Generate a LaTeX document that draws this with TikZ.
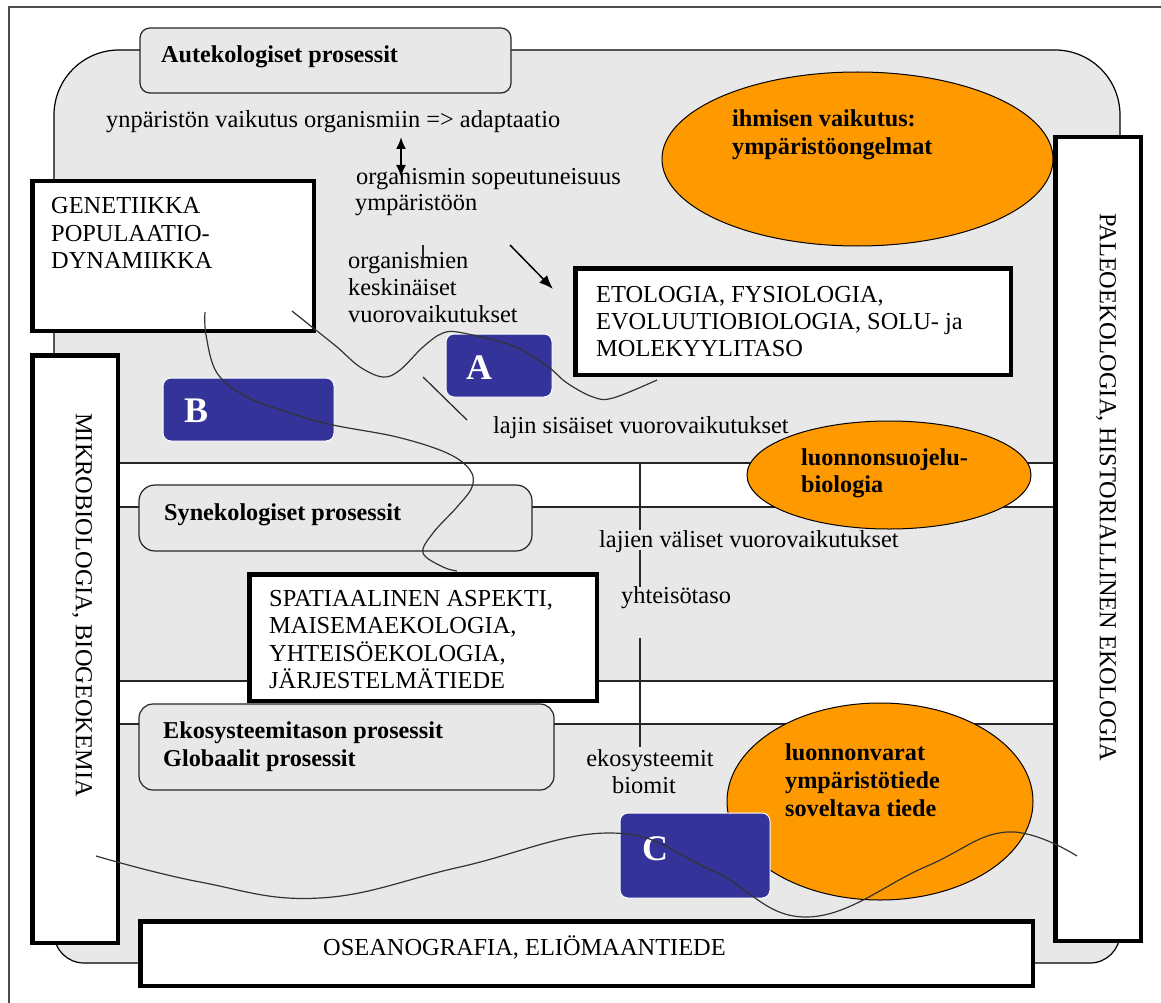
\documentclass[tikz,border=0pt]{standalone}
\usepackage{fontspec}
\setmainfont{Liberation Serif}
\usetikzlibrary{arrows.meta,shapes.geometric}
\definecolor{bggray}{HTML}{E8E8E8}
\definecolor{orng}{HTML}{FF9900}
\definecolor{navyblue}{HTML}{333399}
\begin{document}
\begin{tikzpicture}[x=1pt,y=-1pt,
  txt/.style={inner sep=0pt, anchor=base west, font=\fontsize{24.4}{28}\selectfont},
  btxt/.style={inner sep=0pt, anchor=base west, font=\fontsize{24.2}{28}\selectfont\bfseries},
  thickbox/.style={draw=black, fill=white, line width=4.5pt, rectangle, inner sep=0pt},
  procbox/.style={draw=black!85, fill=bggray, line width=1.2pt, rectangle, rounded corners=#1, inner sep=0pt},
  letterbox/.style={draw=white, fill=navyblue, line width=1pt, rectangle, rounded corners=8pt, inner sep=0pt},
  letter/.style={inner sep=0pt, anchor=base west, text=white, font=\fontsize{36}{40}\selectfont\bfseries},
  ell/.style={ellipse, draw=black, fill=orng, line width=1pt, inner sep=0pt},
  thinline/.style={line width=1.2pt, black!85},
  wave/.style={line width=1.2pt, black!80},
]
\useasboundingbox (0,0) rectangle (1161,1003);
\clip (0,0) rectangle (1161,1003);
\fill[white] (0,0) rectangle (1161,1003);
% outer frame
\draw[line width=1.2pt, black!70] (9,7) rectangle (1185,1025);
% gray background
\draw[line width=1.2pt, fill=bggray] (54,115) arc[start angle=180,end angle=270,radius=65]
  -- (1055,50) arc[start angle=270,end angle=360,radius=65]
  -- (1120,933) arc[start angle=0,end angle=90,radius=30]
  -- (84,963) arc[start angle=90,end angle=180,radius=30] -- cycle;
% white bands
\fill[white] (120,463) rectangle (1053,507);
\fill[white] (120,681) rectangle (1053,724);
\draw[thinline] (120,463) -- (1053,463);
\draw[thinline] (120,507) -- (1053,507);
\draw[thinline] (120,681) -- (1053,681);
\draw[thinline] (120,724) -- (1053,724);
% vertical level line
\draw[thinline] (640,463) -- (640,530);
\draw[thinline] (640,550) -- (640,587);
\draw[thinline] (640,638) -- (640,747);
% process boxes
\node[procbox=10pt, minimum width=371pt, minimum height=65pt] (aut) at (325.5,60.5) {};
\node[procbox=16pt, minimum width=393pt, minimum height=66pt] (syn) at (335.5,518) {};
\node[procbox=14pt, minimum width=415pt, minimum height=86pt] (eko) at (346.5,747) {};
% ellipses
\node[ell, minimum width=391pt, minimum height=174pt] (ihm) at (857.5,159) {};
\node[ell, minimum width=284pt, minimum height=108pt] (luo) at (889,475) {};
\node[ell, minimum width=306pt, minimum height=197pt] (lva) at (880,801.5) {};
% thick boxes
\node[thickbox, minimum width=281.5pt, minimum height=149.5pt] (gen) at (173,256) {};
\node[thickbox, minimum width=435.5pt, minimum height=106.5pt] (eto) at (793,321.5) {};
\node[thickbox, minimum width=347.5pt, minimum height=126.5pt] (spa) at (423,637.5) {};
\node[thickbox, minimum width=85.5pt, minimum height=587.5pt] (mik) at (75,649) {};
\node[thickbox, minimum width=85.5pt, minimum height=803.5pt] (pal) at (1098,539) {};
\node[thickbox, minimum width=892.5pt, minimum height=64.5pt] (ose) at (586.5,953.5) {};
% letter boxes
\node[letterbox, minimum width=106pt, minimum height=63pt] (boxA) at (499,365.5) {};
\node[letterbox, minimum width=171pt, minimum height=63pt] (boxB) at (248.5,409.5) {};
\node[letterbox, minimum width=150pt, minimum height=85pt] (boxC) at (695,855.5) {};
\node[letter] (lA) at (466,379) {A};
\node[letter] (lB) at (184,422) {B};
\node[letter] (lC) at (642,860) {C};
% texts
\node[btxt] (autT) at (161,63) {Autekologiset prosessit};
\node[txt] (env) at (106,128) {ynpäristön vaikutus organismiin => adaptaatio};
\node[txt] (ad1) at (356,185) {organismin sopeutuneisuus};
\node[txt] (ad2) at (355,210) {ympäristöön};
\node[txt] (or1) at (348,268) {organismien};
\node[txt] (or2) at (348,295) {keskinäiset};
\node[txt] (or3) at (348,322) {vuorovaikutukset};
\node[txt] (g1) at (51,214) {GENETIIKKA};
\node[txt] (g2) at (51,241) {POPULAATIO-};
\node[txt] (g3) at (51,268) {DYNAMIIKKA};
\node[txt] (e1) at (596,302) {ETOLOGIA, FYSIOLOGIA,};
\node[txt] (e2) at (596,329) {EVOLUUTIOBIOLOGIA, SOLU- ja};
\node[txt] (e3) at (596,356) {MOLEKYYLITASO};
\node[txt] (laj1) at (493,433) {lajin sisäiset vuorovaikutukset};
\node[btxt] (synT) at (164,520) {Synekologiset prosessit};
\node[txt] (laj2) at (599,547) {lajien väliset vuorovaikutukset};
\node[txt] (yht) at (621,603) {yhteisötaso};
\node[txt] (s1) at (269,606) {SPATIAALINEN ASPEKTI,};
\node[txt] (s2) at (269,633.5) {MAISEMAEKOLOGIA,};
\node[txt] (s3) at (269,661) {YHTEISÖEKOLOGIA,};
\node[txt] (s4) at (269,688.5) {JÄRJESTELMÄTIEDE};
\node[btxt] (ek1) at (163,738) {Ekosysteemitason prosessit};
\node[btxt] (ek2) at (163,766) {Globaalit prosessit};
\node[txt, anchor=base] (eks) at (650,766) {ekosysteemit};
\node[txt, anchor=base] (bio) at (644,793) {biomit};
\node[txt] (oseT) at (323,955) {OSEANOGRAFIA, ELIÖMAANTIEDE};
\node[btxt] (ih1) at (732,127) {ihmisen vaikutus:};
\node[btxt] (ih2) at (732,155) {ympäristöongelmat};
\node[btxt] (lu1) at (801,465) {luonnonsuojelu-};
\node[btxt] (lu2) at (801,492) {biologia};
\node[btxt] (lv1) at (785,760) {luonnonvarat};
\node[btxt] (lv2) at (785,788) {ympäristötiede};
\node[btxt] (lv3) at (785,816) {soveltava tiede};
\node[txt, anchor=west, rotate=-90] (mikT) at (82,413) {MIKROBIOLOGIA, BIOGEOKEMIA};
\node[txt, anchor=west, rotate=-90] (palT) at (1106,213) {PALEOEKOLOGIA, HISTORIALLINEN EKOLOGIA};
% arrows and marks
\coordinate (da1) at (401,137);
\coordinate (da2) at (401,177);
\draw[line width=2pt, {Latex[length=12pt,width=10pt]}-{Latex[length=12pt,width=10pt]}] (da1) -- (da2);
\coordinate (ar1) at (510,245);
\coordinate (ar2) at (553,289);
\draw[line width=1.5pt, -{Latex[length=14pt,width=11pt]}] (ar1) -- (ar2);
\coordinate (tk1) at (423,245);
\coordinate (tk2) at (423,263);
\draw[thinline] (tk1) -- (tk2);
\coordinate (dg1) at (423,377);
\coordinate (dg2) at (467,420);
\draw[thinline] (dg1) -- (dg2);
% curves
\draw[wave] plot[smooth, tension=0.6] coordinates {(205,312) (206,335) (217,373) (247,397) (290,413) (333,425) (397,437) (447,453) (470,470) (472,487) (457,507) (433,533) (423,553) (443,567) (457,571)};
\draw[wave] plot[smooth, tension=0.6] coordinates {(292,311) (312,327) (337,347) (360,367) (383,377) (400,370) (423,347) (443,333) (463,333) (513,346) (547,366) (567,383) (593,397) (613,398) (657,380)};
\draw[wave] plot[smooth, tension=0.7] coordinates {(96,856) (200,882) (320,898) (460,867) (611,833) (711,870) (807,917) (925,867) (1007,832) (1077,856)};
\end{tikzpicture}
\end{document}
